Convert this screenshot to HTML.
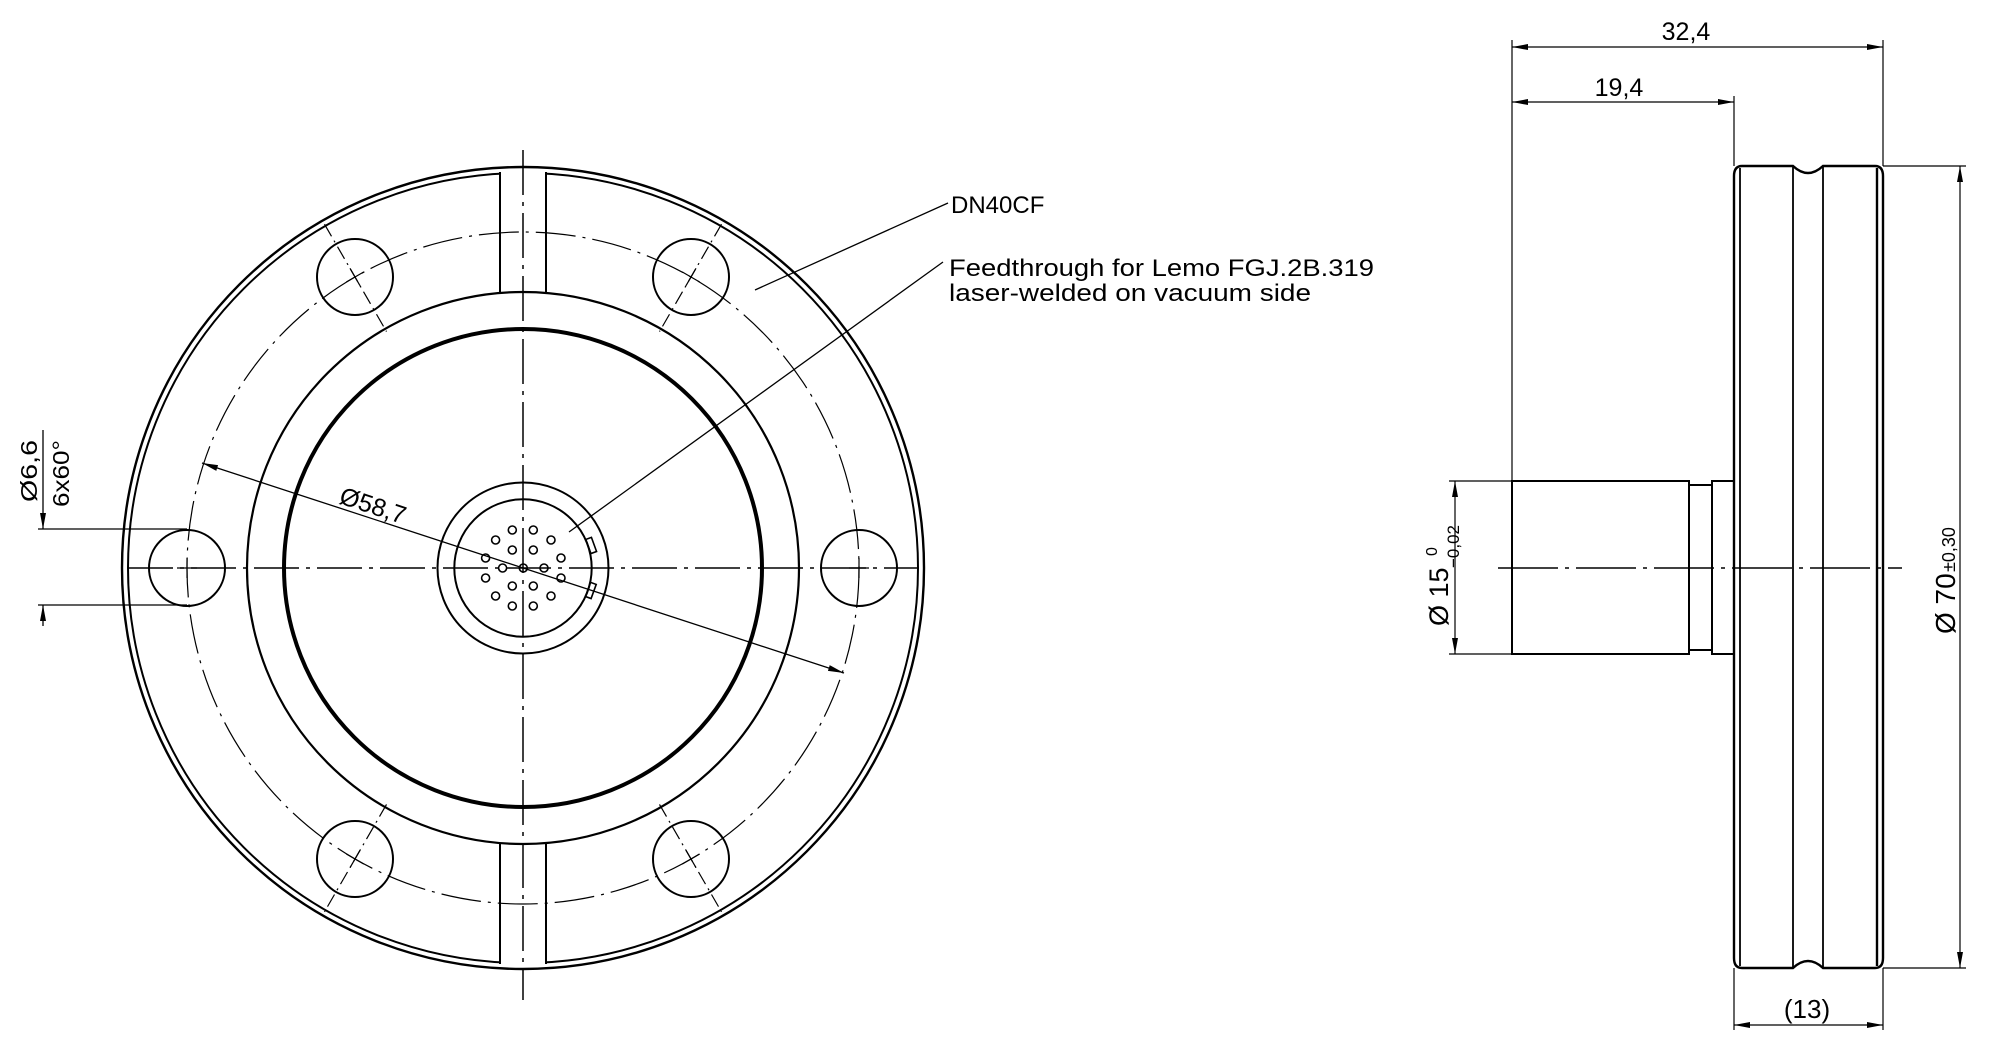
<!DOCTYPE html>
<html><head><meta charset="utf-8"><style>
html,body{margin:0;padding:0;background:#fff;width:2000px;height:1057px;overflow:hidden}
svg{display:block}
text{font-family:"Liberation Sans",Arial,sans-serif;fill:#000}
</style></head><body>
<svg width="2000" height="1057" viewBox="0 0 2000 1057" xmlns="http://www.w3.org/2000/svg">
<defs>
<marker id="a" viewBox="0 0 16 6" refX="16" refY="3" markerWidth="16" markerHeight="6" markerUnits="userSpaceOnUse" orient="auto-start-reverse"><path d="M0,0 L16,3 L0,6 Z" fill="#000"/></marker>
</defs>
<g fill="none" stroke="#000">
<!-- front view -->
<circle cx="523" cy="568" r="401" stroke-width="2.4"/>
<circle cx="523" cy="568" r="395" stroke-width="2"/>
<rect x="501" y="171" width="44" height="119" fill="#fff" stroke="none"/>
<rect x="501" y="846" width="44" height="119" fill="#fff" stroke="none"/>
<line x1="500" y1="172" x2="500" y2="293" stroke-width="2"/>
<line x1="546" y1="172" x2="546" y2="293" stroke-width="2"/>
<line x1="500" y1="843" x2="500" y2="964" stroke-width="2"/>
<line x1="546" y1="843" x2="546" y2="964" stroke-width="2"/>
<circle cx="523" cy="568" r="276" stroke-width="2.2"/>
<circle cx="523" cy="568" r="239" stroke-width="4"/>
<circle cx="523" cy="568" r="336" stroke-width="1.2" stroke-dasharray="40,7,3,7"/>
<circle cx="523" cy="568" r="85.5" stroke-width="2"/>
<circle cx="523" cy="568" r="68.7" stroke-width="2"/>
<!-- bolt holes -->
<g stroke-width="2">
<circle cx="187" cy="568" r="38"/><circle cx="859" cy="568" r="38"/>
<circle cx="355" cy="277" r="38"/><circle cx="691" cy="277" r="38"/>
<circle cx="355" cy="859" r="38"/><circle cx="691" cy="859" r="38"/>
</g>
<g stroke-width="1.2">
<path d="M177,568 h20 M187,558 v20 M849,568 h20 M859,558 v20"/>
<g transform="rotate(-30 355 277)"><path d="M345,277 h20 M355,267 v20"/><line x1="355" y1="216" x2="355" y2="340" stroke-dasharray="14,5,2,5"/></g>
<g transform="rotate(30 691 277)"><path d="M681,277 h20 M691,267 v20"/><line x1="691" y1="216" x2="691" y2="340" stroke-dasharray="14,5,2,5"/></g>
<g transform="rotate(30 355 859)"><path d="M345,859 h20 M355,849 v20"/><line x1="355" y1="796" x2="355" y2="920" stroke-dasharray="14,5,2,5"/></g>
<g transform="rotate(-30 691 859)"><path d="M681,859 h20 M691,849 v20"/><line x1="691" y1="796" x2="691" y2="920" stroke-dasharray="14,5,2,5"/></g>
</g>
<!-- center lines -->
<line x1="128" y1="568" x2="918" y2="568" stroke-width="1.5" stroke-dasharray="45,7,4,7"/>
<line x1="523" y1="150" x2="523" y2="1000" stroke-width="1.5" stroke-dasharray="45,7,4,7"/>
<!-- connector pins -->
<g stroke-width="1.6">
<circle cx="512.3" cy="530" r="4"/><circle cx="533.3" cy="530" r="4"/>
<circle cx="495.6" cy="540" r="4"/><circle cx="551" cy="540" r="4"/>
<circle cx="512.3" cy="550" r="4"/><circle cx="533.3" cy="550" r="4"/>
<circle cx="485.6" cy="558" r="4"/><circle cx="561" cy="558" r="4"/>
<circle cx="502.6" cy="568" r="4"/><circle cx="523.3" cy="568" r="4"/><circle cx="544" cy="568" r="4"/>
<circle cx="485.6" cy="578" r="4"/><circle cx="561" cy="578" r="4"/>
<circle cx="512.3" cy="586" r="4"/><circle cx="533.3" cy="586" r="4"/>
<circle cx="495.6" cy="596" r="4"/><circle cx="551" cy="596" r="4"/>
<circle cx="512.3" cy="606" r="4"/><circle cx="533.3" cy="606" r="4"/>
<rect x="588" y="538" width="6" height="15" transform="rotate(-20 591 545)"/>
<rect x="588" y="583" width="6" height="15" transform="rotate(20 591 590)"/>
</g>
<!-- Ø58,7 -->
<line x1="202" y1="463" x2="844" y2="673" stroke-width="1.3" marker-start="url(#a)" marker-end="url(#a)"/>
<!-- leaders -->
<line x1="755" y1="290" x2="948" y2="203" stroke-width="1.3"/>
<line x1="569" y1="532" x2="943" y2="262" stroke-width="1.3"/>
<!-- Ø6,6 dim -->
<line x1="38" y1="529" x2="187" y2="529" stroke-width="1.3"/>
<line x1="38" y1="605" x2="187" y2="605" stroke-width="1.3"/>
<line x1="43" y1="430" x2="43" y2="529" stroke-width="1.3" marker-end="url(#a)"/>
<line x1="43" y1="626" x2="43" y2="605" stroke-width="1.3" marker-end="url(#a)"/>

<!-- side view -->
<path d="M1734,176 Q1734,166 1742,166 L1793,166 Q1808,180 1823,166 L1875,166 Q1883,166 1883,176 L1883,958 Q1883,968 1875,968 L1823,968 Q1808,954 1793,968 L1742,968 Q1734,968 1734,958 Z" stroke-width="2.4"/>
<line x1="1740" y1="168" x2="1740" y2="966" stroke-width="1.8"/>
<line x1="1877" y1="168" x2="1877" y2="966" stroke-width="2.4"/>
<line x1="1793" y1="166" x2="1793" y2="968" stroke-width="1.8"/>
<line x1="1823" y1="166" x2="1823" y2="968" stroke-width="1.8"/>
<rect x="1512" y="481" width="177" height="173" stroke-width="2"/>
<rect x="1689" y="485" width="23" height="165" stroke-width="2"/>
<rect x="1712" y="481" width="22" height="173" stroke-width="2"/>
<line x1="1498" y1="568" x2="1902" y2="568" stroke-width="1.5" stroke-dasharray="60,7,4,7"/>
<!-- top dims -->
<line x1="1512" y1="40" x2="1512" y2="481" stroke-width="1.2"/>
<line x1="1883" y1="40" x2="1883" y2="166" stroke-width="1.2"/>
<line x1="1734" y1="96" x2="1734" y2="166" stroke-width="1.2"/>
<line x1="1512" y1="47" x2="1883" y2="47" stroke-width="1.2" marker-start="url(#a)" marker-end="url(#a)"/>
<line x1="1512" y1="102" x2="1734" y2="102" stroke-width="1.2" marker-start="url(#a)" marker-end="url(#a)"/>
<!-- Ø70 -->
<line x1="1883" y1="166" x2="1966" y2="166" stroke-width="1.2"/>
<line x1="1883" y1="968" x2="1966" y2="968" stroke-width="1.2"/>
<line x1="1960" y1="166" x2="1960" y2="968" stroke-width="1.2" marker-start="url(#a)" marker-end="url(#a)"/>
<!-- Ø15 -->
<line x1="1449" y1="481" x2="1512" y2="481" stroke-width="1.2"/>
<line x1="1449" y1="654" x2="1512" y2="654" stroke-width="1.2"/>
<line x1="1455" y1="481" x2="1455" y2="654" stroke-width="1.2" marker-start="url(#a)" marker-end="url(#a)"/>
<!-- (13) -->
<line x1="1734" y1="968" x2="1734" y2="1030" stroke-width="1.2"/>
<line x1="1883" y1="968" x2="1883" y2="1030" stroke-width="1.2"/>
<line x1="1734" y1="1025" x2="1883" y2="1025" stroke-width="1.2" marker-start="url(#a)" marker-end="url(#a)"/>
</g>
<!-- texts -->
<text x="951" y="213" font-size="24">DN40CF</text>
<text x="949" y="276" font-size="24" textLength="425" lengthAdjust="spacingAndGlyphs">Feedthrough for Lemo FGJ.2B.319</text>
<text x="949" y="301" font-size="24" textLength="362" lengthAdjust="spacingAndGlyphs">laser-welded on vacuum side</text>
<text transform="translate(338,503) rotate(18.1)" font-size="25">Ø58,7</text>
<text transform="translate(37,502) rotate(-90)" font-size="23" textLength="62" lengthAdjust="spacingAndGlyphs">Ø6,6</text>
<text transform="translate(69,507) rotate(-90)" font-size="23" textLength="67" lengthAdjust="spacingAndGlyphs">6x60°</text>
<text x="1686" y="40" font-size="25" text-anchor="middle">32,4</text>
<text x="1619" y="96" font-size="25" text-anchor="middle">19,4</text>
<text x="1807" y="1018" font-size="26" text-anchor="middle">(13)</text>
<text transform="translate(1955,634) rotate(-90)" font-size="28">Ø 70</text>
<text transform="translate(1955,572) rotate(-90)" font-size="18">±0,30</text>
<text transform="translate(1448,626) rotate(-90)" font-size="27">Ø 15</text>
<text transform="translate(1459,568) rotate(-90)" font-size="17">−0,02</text>
<text transform="translate(1437,556) rotate(-90)" font-size="16">0</text>
</svg>
</body></html>
